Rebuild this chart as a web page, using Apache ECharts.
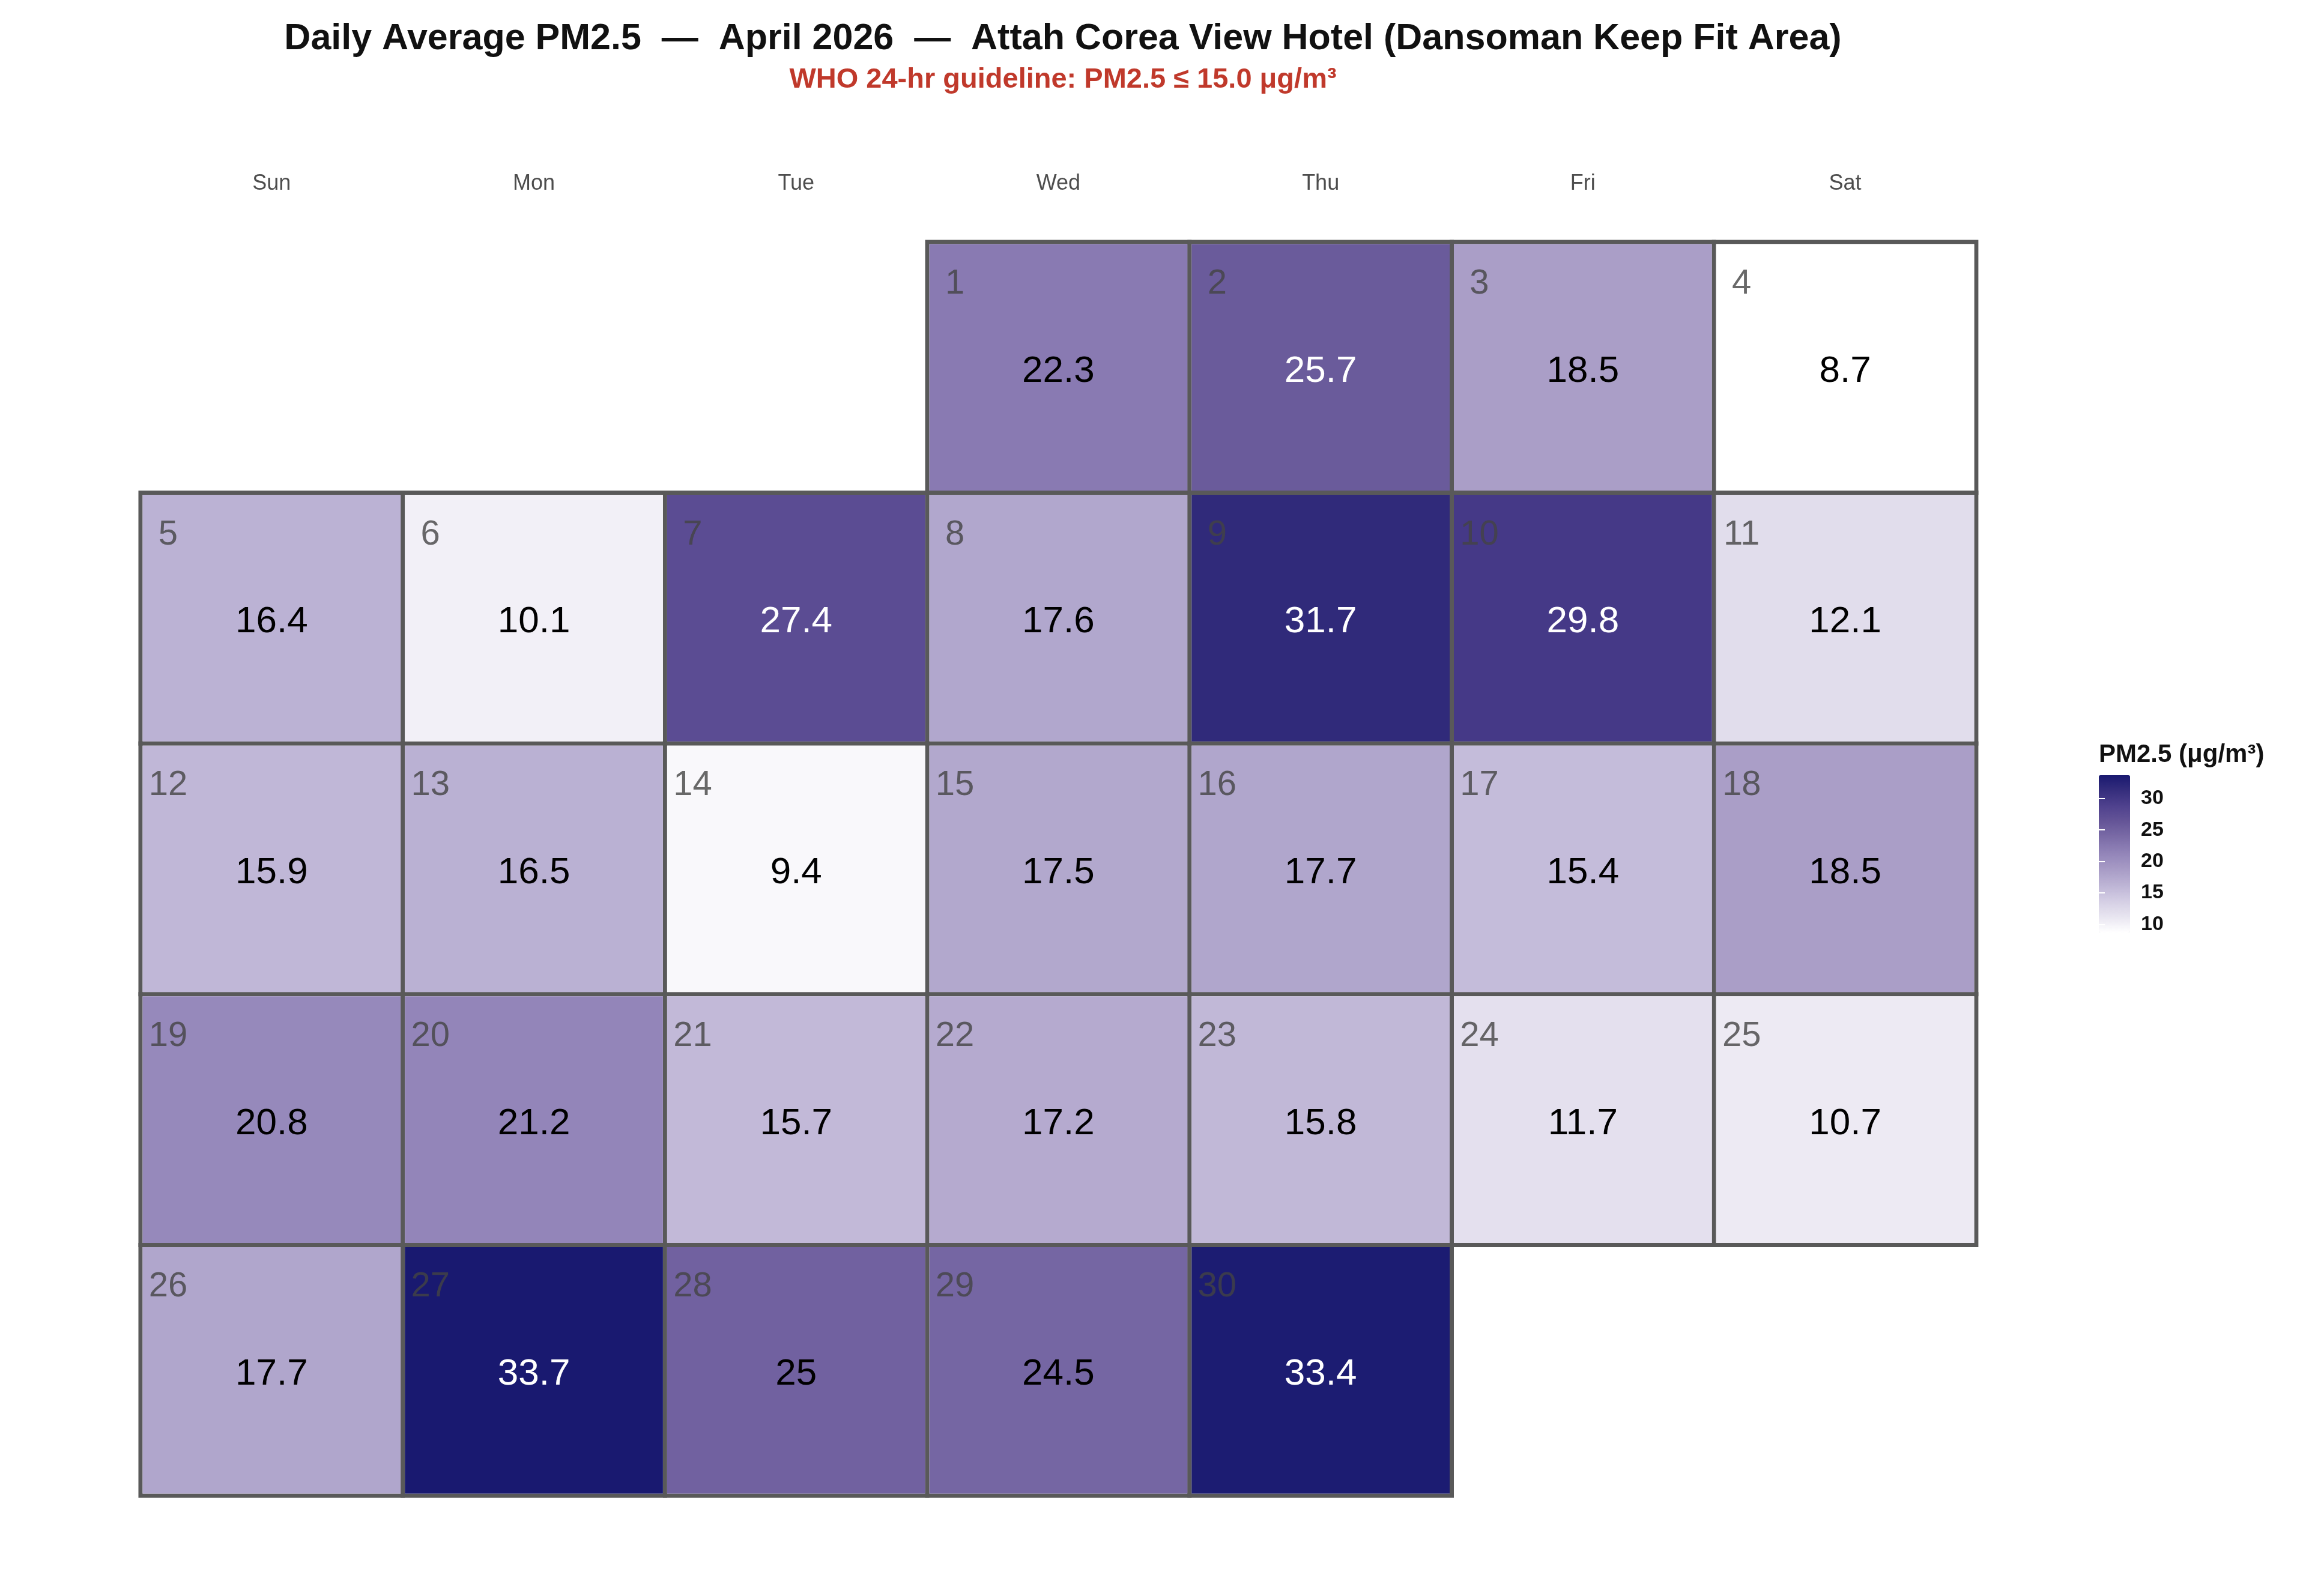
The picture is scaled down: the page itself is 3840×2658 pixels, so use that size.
<!DOCTYPE html>
<html>
<head>
<meta charset="utf-8">
<title>Daily Average PM2.5 - April 2026</title>
<script src="https://cdn.jsdelivr.net/npm/echarts@6/dist/echarts.min.js"></script>
<style>
  html, body { margin: 0; padding: 0; background: #ffffff; }
  #chart { width: 3840px; height: 2658px; }
</style>
</head>
<body>
<div id="chart"></div>
<script>
// ---- data ----
var monthRange = '2026-04';
var weekdayNames = ['Sun', 'Mon', 'Tue', 'Wed', 'Thu', 'Fri', 'Sat'];
var dayOfMonth = [1, 2, 3, 4, 5, 6, 7, 8, 9, 10, 11, 12, 13, 14, 15,
                  16, 17, 18, 19, 20, 21, 22, 23, 24, 25, 26, 27, 28, 29, 30];
var pm25 = [22.3, 25.7, 18.5, 8.7, 16.4, 10.1, 27.4, 17.6, 31.7, 29.8,
            12.1, 15.9, 16.5, 9.4, 17.5, 17.7, 15.4, 18.5, 20.8, 21.2,
            15.7, 17.2, 15.8, 11.7, 10.7, 17.7, 33.7, 25, 24.5, 33.4];
var legendTicks = [10, 15, 20, 25, 30];
var whoGuideline = 15.0;

// ---- look ----
var FONT = '"Liberation Sans", Arial, Helvetica, sans-serif';
var cellW = 436.7, cellH = 417.6;
var gridLeft = 234, gridTop = 403;
var borderCol = '#595959';
var scaleColors = ['#ffffff', '#e8e5f0', '#d4cee4', '#bdb4d5', '#a89cc6', '#9385b9',
                   '#7c6da8', '#665698', '#50428e', '#362e7d', '#191970'];

function pad2(n) { return n < 10 ? '0' + n : '' + n; }

var heatData = [];
var dayData = [];
for (var i = 0; i < dayOfMonth.length; i++) {
  var date = monthRange + '-' + pad2(dayOfMonth[i]);
  heatData.push({
    value: [date, pm25[i]],
    label: { color: pm25[i] > 25 ? '#ffffff' : '#000000' }
  });
  dayData.push([date, dayOfMonth[i]]);
}

var vMin = Math.min.apply(null, pm25);
var vMax = Math.max.apply(null, pm25);

var chart = echarts.init(document.getElementById('chart'), null, { renderer: 'canvas' });

var option = {
  backgroundColor: '#ffffff',
  animation: false,
  title: [
    {
      text: 'Daily Average PM2.5  \u2014  April 2026  \u2014  Attah Corea View Hotel (Dansoman Keep Fit Area)',
      left: 1770, top: 35, textAlign: 'center', padding: 0,
      textStyle: { fontSize: 61, fontWeight: 'bold', color: '#111111', fontFamily: FONT }
    },
    {
      text: 'WHO 24-hr guideline: PM2.5 \u2264 ' + whoGuideline.toFixed(1) + ' \u03bcg/m\u00b3',
      left: 1770, top: 110, textAlign: 'center', padding: 0,
      textStyle: { fontSize: 47, fontWeight: 'bold', color: '#c0392b', fontFamily: FONT }
    },
    {
      text: 'PM2.5 (\u03bcg/m\u00b3)',
      left: 3495, top: 1236, padding: 0,
      textStyle: { fontSize: 42, fontWeight: 'bold', color: '#111111', fontFamily: FONT }
    }
  ],
  calendar: {
    orient: 'vertical',
    range: monthRange,
    left: gridLeft,
    top: gridTop,
    cellSize: [cellW, cellH],
    splitLine: { show: false },
    itemStyle: { color: '#ffffff', borderColor: borderCol, borderWidth: 7 },
    dayLabel: {
      firstDay: 0, nameMap: weekdayNames, position: 'start', margin: 79,
      color: '#4d4d4d', fontSize: 36, fontFamily: FONT
    },
    monthLabel: { show: false },
    yearLabel: { show: false }
  },
  visualMap: {
    type: 'continuous',
    min: vMin, max: vMax,
    seriesIndex: 0,
    calculable: false,
    hoverLink: false,
    orient: 'vertical',
    left: 3495, top: 1291,
    itemWidth: 52, itemHeight: 262,
    padding: 0,
    inRange: { color: scaleColors }
  },
  grid: { left: 3495, top: 1291, width: 52, height: 262, show: false },
  xAxis: { type: 'value', show: false, min: 0, max: 1 },
  yAxis: [
    {
      type: 'value', min: vMin, max: vMax, position: 'right', z: 10,
      axisLine: { show: false }, splitLine: { show: false },
      axisTick: { show: true, inside: true, length: 10, customValues: legendTicks,
                  lineStyle: { color: '#ffffff', width: 2 } },
      axisLabel: { customValues: legendTicks, margin: 18, fontSize: 34, fontWeight: 'bold',
                   color: '#111111', fontFamily: FONT, padding: [6, 0, 0, 0] }
    },
    {
      type: 'value', min: vMin, max: vMax, position: 'left', z: 10,
      axisLine: { show: false }, splitLine: { show: false },
      axisTick: { show: true, inside: true, length: 10, customValues: legendTicks,
                  lineStyle: { color: '#ffffff', width: 2 } },
      axisLabel: { show: false }
    }
  ],
  series: [
    {
      type: 'heatmap',
      coordinateSystem: 'calendar',
      data: heatData,
      itemStyle: { borderWidth: 0 },
      label: {
        show: true,
        offset: [0, 7],
        fontSize: 62, fontFamily: FONT,
        formatter: function (p) { return '' + p.value[1]; }
      },
      emphasis: { disabled: true }
    },
    {
      type: 'scatter',
      coordinateSystem: 'calendar',
      data: dayData,
      symbolSize: 0,
      silent: true,
      z: 5,
      label: {
        show: true,
        position: 'inside',
        offset: [-cellW / 2 + 46, -cellH / 2 + 70],
        align: 'center', verticalAlign: 'middle',
        fontSize: 58, fontFamily: FONT, color: '#444444',
        formatter: function (p) { return '' + p.value[1]; }
      }
    }
  ]
};

chart.setOption(option);
</script>
</body>
</html>
